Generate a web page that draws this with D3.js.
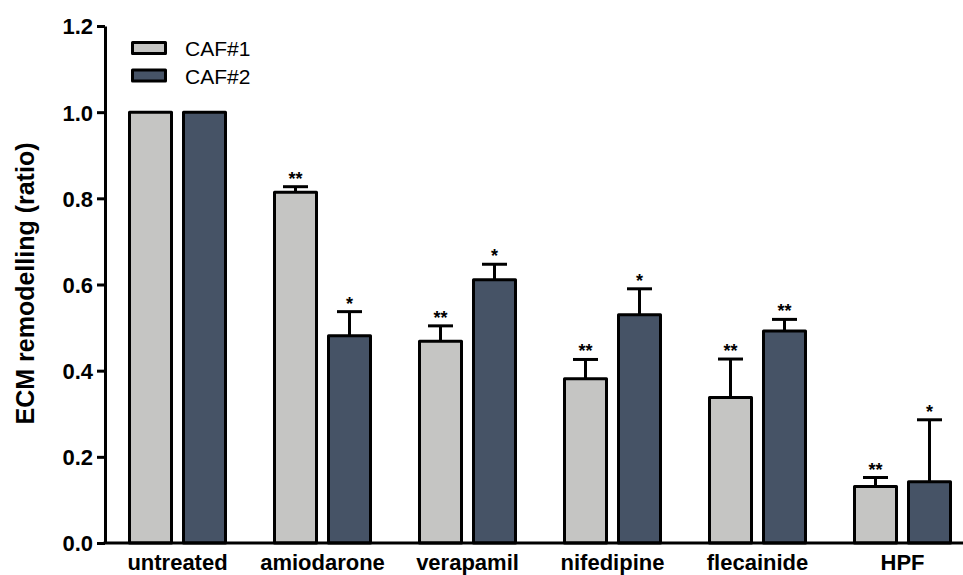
<!DOCTYPE html>
<html>
<head>
<meta charset="utf-8">
<script src="https://cdn.jsdelivr.net/npm/d3@7"></script>
<style>
  html, body { margin: 0; padding: 0; background: #fff; }
  svg { display: block; }
  text { font-family: "Liberation Sans", Arial, sans-serif; fill: #000; }
</style>
</head>
<body>
<svg id="chart" width="963" height="575"></svg>
<script>
const categories = ["untreated", "amiodarone", "verapamil", "nifedipine", "flecainide", "HPF"];
const seriesNames = ["CAF#1", "CAF#2"];
const caf1Values = [1.0, 0.814, 0.468, 0.381, 0.338, 0.131];
const caf2Values = [1.0, 0.481, 0.611, 0.530, 0.492, 0.142];
const caf1Errors = [0, 0.013, 0.036, 0.045, 0.089, 0.021];
const caf2Errors = [0, 0.056, 0.036, 0.060, 0.027, 0.144];
const caf1Sig = ["", "**", "**", "**", "**", "**"];
const caf2Sig = ["", "*", "*", "*", "**", "*"];
const yTicks = [0.0, 0.2, 0.4, 0.6, 0.8, 1.0, 1.2];
const colors = ["#c5c5c3", "#465366"];

const seriesData = [
  {name: seriesNames[0], values: caf1Values, errors: caf1Errors, sig: caf1Sig, color: colors[0]},
  {name: seriesNames[1], values: caf2Values, errors: caf2Errors, sig: caf2Sig, color: colors[1]}
];

const svg = d3.select("#chart");
const axisX = 105, baseY = 543;

const x0 = d3.scaleBand().domain(categories).range([105, 975]).padding(0);
const x1 = d3.scaleBand().domain(seriesNames).range([23, 122]).paddingInner(1/6).paddingOuter(0);
const y = d3.scaleLinear().domain([0, 1.2]).range([baseY, 26]);

const SW = 3;

// bars
const groups = svg.append("g").selectAll("g")
  .data(categories).join("g")
  .attr("transform", d => `translate(${x0(d)},0)`);

seriesData.forEach(s => {
  groups.each(function(cat, i) {
    const g = d3.select(this);
    const bx = x1(s.name);
    const bw = x1.bandwidth();
    const v = s.values[i];
    const e = s.errors[i];
    const cx = bx + bw / 2;
    if (e > 0) {
      g.append("line").attr("x1", cx).attr("x2", cx)
        .attr("y1", y(v)).attr("y2", y(v + e))
        .attr("stroke", "#000").attr("stroke-width", SW);
      g.append("line").attr("x1", cx - 12.5).attr("x2", cx + 12.5)
        .attr("y1", y(v + e)).attr("y2", y(v + e))
        .attr("stroke", "#000").attr("stroke-width", SW);
    }
    g.append("rect")
      .attr("x", bx + SW / 2).attr("width", bw - SW)
      .attr("y", y(v)).attr("height", y(0) - y(v))
      .attr("fill", s.color).attr("stroke", "#000").attr("stroke-width", SW)
      .attr("stroke-linejoin", "round");
    if (s.sig[i]) {
      g.append("text").attr("x", cx).attr("y", y(v + e) - 2)
        .attr("text-anchor", "middle")
        .style("font-size", "18px").style("font-weight", "bold")
        .text(s.sig[i]);
    }
  });
});

// y axis
const yAxis = d3.axisLeft(y).tickValues(yTicks).tickFormat(d3.format(".1f"))
  .tickSize(8).tickPadding(4).tickSizeOuter(0);
const yg = svg.append("g").attr("transform", `translate(${axisX},0)`).call(yAxis);
yg.select(".domain").attr("stroke", "#000").attr("stroke-width", SW);
yg.selectAll(".tick line").attr("stroke", "#000").attr("stroke-width", SW);
yg.selectAll(".tick text").style("font-size", "22px").style("font-weight", "bold")
  .attr("font-family", null).attr("dy", "0.36em");

// x axis line
svg.append("line").attr("x1", axisX - 1.5).attr("x2", 963)
  .attr("y1", baseY).attr("y2", baseY)
  .attr("stroke", "#000").attr("stroke-width", SW);

// x labels
svg.append("g").selectAll("text").data(categories).join("text")
  .attr("x", d => x0(d) + x0.bandwidth() / 2)
  .attr("y", 569.5)
  .attr("text-anchor", "middle")
  .style("font-size", "22px").style("font-weight", "bold")
  .text(d => d);

// y title
svg.append("text")
  .attr("transform", `translate(34,${283.5}) rotate(-90)`)
  .attr("text-anchor", "middle")
  .style("font-size", "25px").style("font-weight", "bold")
  .text("ECM remodelling (ratio)");

// legend
const legend = svg.append("g").selectAll("g").data(seriesData).join("g")
  .attr("transform", (d, i) => `translate(0,${i * 27.5})`);
legend.append("rect")
  .attr("x", 132.5).attr("y", 42.5).attr("width", 33).attr("height", 11)
  .attr("fill", d => d.color).attr("stroke", "#000").attr("stroke-width", SW)
  .attr("stroke-linejoin", "round");
legend.append("text")
  .attr("x", 185).attr("y", 56)
  .style("font-size", "21px")
  .text(d => d.name);
</script>
</body>
</html>
